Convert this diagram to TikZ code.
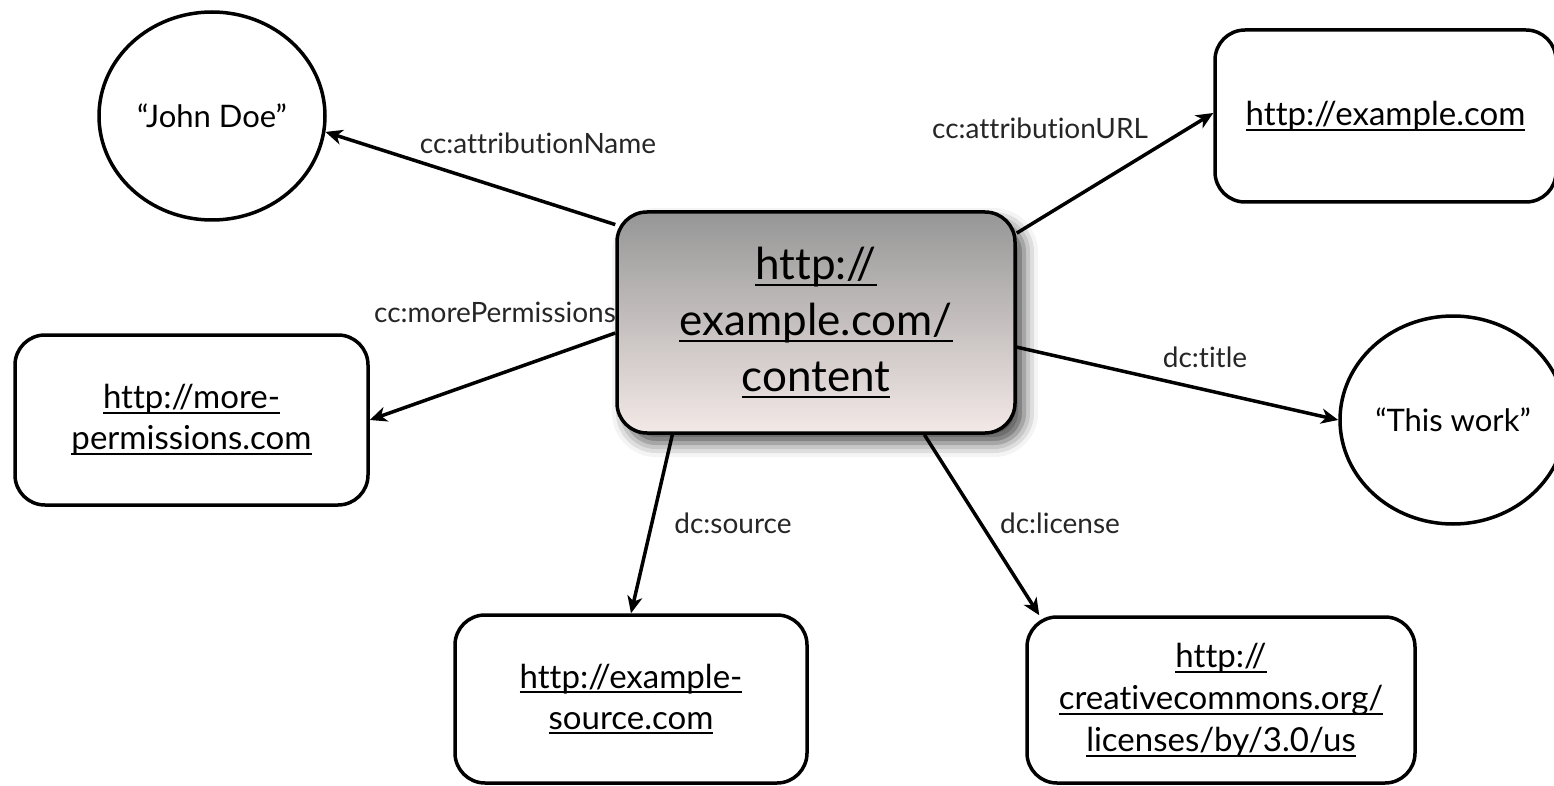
\documentclass[tikz,border=0pt]{standalone}
\usepackage{fontspec}
\setmainfont{Lato}[Ligatures={NoCommon}]
\usetikzlibrary{arrows.meta,shapes.geometric,shadows.blur}
\newlength\ulw
\newcommand{\ulx}[1]{\settowidth{\ulw}{#1}\rlap{\rule[-0.16em]{\ulw}{0.06em}}#1}
\definecolor{ctop}{RGB}{150,150,150}
\definecolor{cbot}{RGB}{243,233,231}
\begin{document}
\begin{tikzpicture}[x=1pt,y=-1pt,
  box/.style={draw,line width=3.5pt,rounded corners=30pt,align=center,
    font=\fontsize{33}{41}\selectfont,inner sep=0pt},
  ell/.style={draw,ellipse,line width=3.5pt,minimum width=226pt,minimum height=208pt,
    inner sep=0pt,font=\fontsize{31}{36}\selectfont},
  lbl/.style={font=\fontsize{28}{32}\selectfont,text=black!85,inner sep=0pt},
  link/.style={line width=3.5pt,-{Stealth[length=17pt,width=15pt,inset=5pt]}}]
\useasboundingbox (0,0) rectangle (1554,786);

\node[ell] (jd) at (212,116) {“John Doe”};
\node[ell] (tw) at (1453,420) {“This work”};
\node[box,minimum width=341pt,minimum height=172pt] (u) at (1385.5,116) {\ulx{http://example.com}};
\node[box,minimum width=353pt,minimum height=170pt] (mp) at (191.5,420) {\ulx{http://more-}\\\ulx{permissions.com}};
\node[box,minimum width=352pt,minimum height=168pt] (s) at (631,699) {\ulx{http://example-}\\\ulx{source.com}};
\node[box,minimum width=388pt,minimum height=166pt,font=\fontsize{33}{42}\selectfont] (lic) at (1221,700) {\ulx{http://}\\\ulx{creativecommons.org/}\\\ulx{licenses/by/3.0/us}};
\node[box,minimum width=398pt,minimum height=221pt,top color=ctop,bottom color=cbot,
  blur shadow={shadow xshift=9pt,shadow yshift=-10pt,shadow blur radius=14pt,shadow opacity=70},
  font=\fontsize{44}{56}\selectfont] (c) at (816,322.5) {\ulx{http://}\\\ulx{example.com/}\\\ulx{content}};

\node[lbl] (l1) at (538,143) {cc:attributionName};
\node[lbl] (l2) at (1040,128) {cc:attributionURL};
\node[lbl] (l3) at (495,312) {cc:morePermissions};
\node[lbl] (l4) at (1205,357) {dc:title};
\node[lbl] (l5) at (733,523) {dc:source};
\node[lbl] (l6) at (1060,523) {dc:license};

\draw[link] (c.154) -- (jd.-8);
\draw[link] (c.24) -- (u.179);
\draw[link] (c.183) -- (mp.east);
\draw[link] (c.-7) -- (tw.180);
\draw[link] (c.218.5) -- (s.north);
\draw[link] (c.-46) -- (lic.155);
\end{tikzpicture}
\end{document}
